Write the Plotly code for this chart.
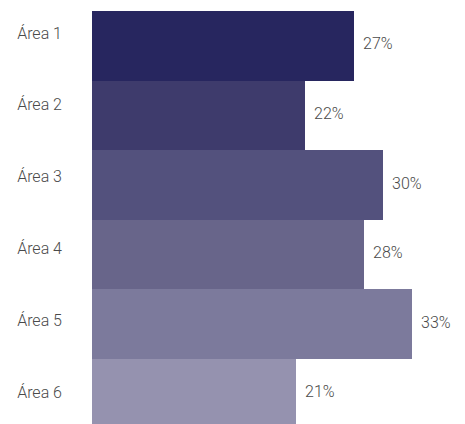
import plotly.graph_objects as go

# Share per area (%)
areas = ["Área 1", "Área 2", "Área 3", "Área 4", "Área 5", "Área 6"]
shares = [27, 22, 30, 28, 33, 21]
bar_colors = ["#27265F", "#3E3B6C", "#53517D", "#68658A", "#7C7A9C", "#9592AF"]

label_font = dict(family="Roboto", size=16, color="#4a4a4a", weight=300)

fig = go.Figure()

fig.add_trace(go.Bar(
    x=shares,
    y=list(range(len(areas))),
    orientation="h",
    width=1.0,
    marker=dict(color=bar_colors, line=dict(width=0)),
    hoverinfo="skip",
    showlegend=False,
))

# helper trace carrying the category labels on the secondary y-axis
fig.add_trace(go.Scatter(
    x=[0] * len(areas),
    y=list(range(len(areas))),
    mode="none",
    yaxis="y2",
    hoverinfo="skip",
    showlegend=False,
))

for i, v in enumerate(shares):
    fig.add_annotation(
        x=v, y=i, xref="x", yref="y",
        text=f"{v}%", showarrow=False,
        xanchor="left", yanchor="middle",
        xshift=7, yshift=2,
        font=label_font,
    )

fig.update_layout(
    width=465, height=424,
    margin=dict(l=92, r=0, t=11, b=0),
    plot_bgcolor="white", paper_bgcolor="white",
    bargap=0,
    xaxis=dict(range=[0, 38.45], visible=False, fixedrange=True),
    yaxis=dict(range=[5.434, -0.5], visible=False, showgrid=False, zeroline=False),
    yaxis2=dict(
        overlaying="y", side="left",
        range=[5.446, -0.306],
        tickmode="array",
        tickvals=list(range(len(areas))),
        ticktext=areas,
        ticks="", showgrid=False, zeroline=False, showline=False,
        ticklabelstandoff=29,
        tickfont=label_font,
    ),
)

fig.write_html("out.html")
